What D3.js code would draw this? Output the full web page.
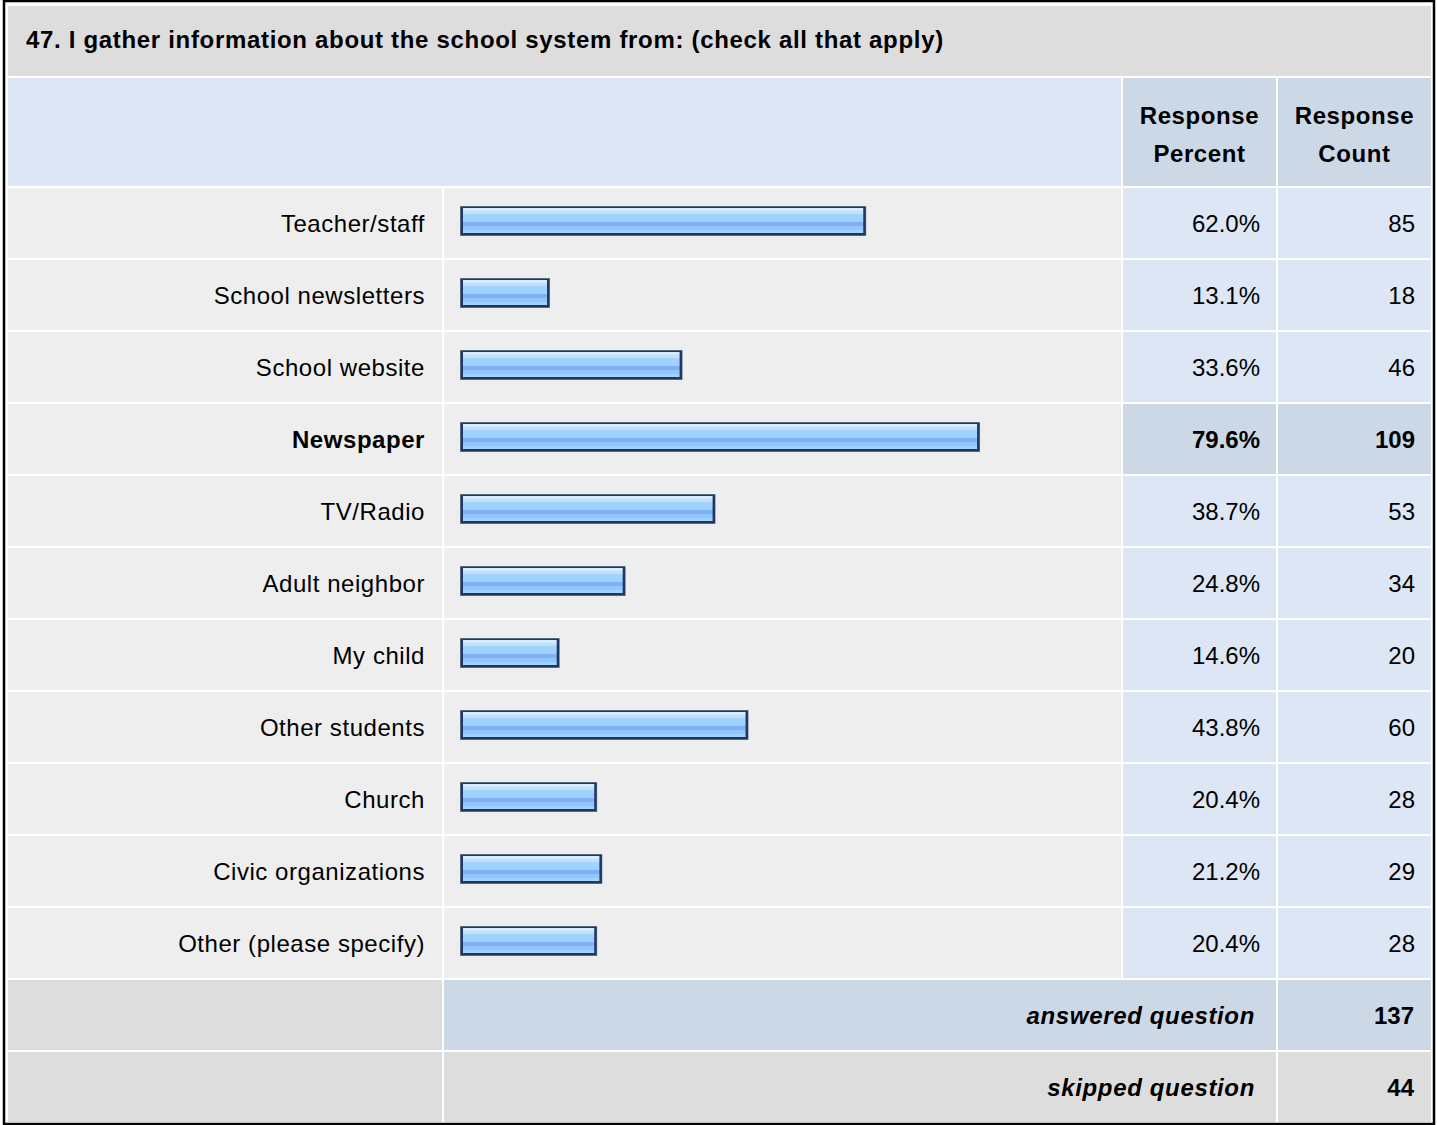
<!DOCTYPE html>
<html>
<head>
<meta charset="utf-8">
<script src="https://cdn.jsdelivr.net/npm/d3@7"></script>
<style>
  html, body { margin: 0; padding: 0; background: #ffffff; }
  svg { display: block; }
  text { font-family: "Liberation Sans", Arial, Helvetica, sans-serif; fill: #000; }
</style>
</head>
<body>
<svg id="chart" width="1437" height="1125"></svg>
<script>
const title = "47. I gather information about the school system from: (check all that apply)";
const headerPercent = ["Response", "Percent"];
const headerCount = ["Response", "Count"];
const categories = [
  "Teacher/staff", "School newsletters", "School website", "Newspaper", "TV/Radio",
  "Adult neighbor", "My child", "Other students", "Church", "Civic organizations",
  "Other (please specify)"
];
const percents = [62.0, 13.1, 33.6, 79.6, 38.7, 24.8, 14.6, 43.8, 20.4, 21.2, 20.4];
const counts = [85, 18, 46, 109, 53, 34, 20, 60, 28, 29, 28];
const footerLabels = ["answered question", "skipped question"];
const footerValues = [137, 44];

const svg = d3.select("#chart");
const W = 1437, H = 1125;

// column edges
const colLabel = [8, 442], colBar = [444, 1121], colPct = [1123, 1276], colCnt = [1278, 1431];

const C = {
  gray: "#dddddd", light: "#eeeeee", blue: "#dce6f4", blueDark: "#ccd8e6"
};

// gradient for bars
const defs = svg.append("defs");
const grad = defs.append("linearGradient").attr("id", "barGrad")
  .attr("x1", 0).attr("y1", 0).attr("x2", 0).attr("y2", 1);
[
  [0, "#d4ecff"], [0.1, "#d4ecff"], [0.12, "#bfe1ff"], [0.22, "#bfe1ff"],
  [0.24, "#a4d3ff"], [0.54, "#9fd0ff"], [0.56, "#7eb2f4"], [0.72, "#7eb2f4"],
  [0.74, "#90c6ff"], [0.88, "#90c6ff"], [0.9, "#a2d2ff"], [1, "#a2d2ff"]
].forEach(([o, c]) => grad.append("stop").attr("offset", o).attr("stop-color", c));

svg.append("rect").attr("width", W).attr("height", H).attr("fill", "#fff");

// title row
svg.append("rect").attr("x", colLabel[0]).attr("y", 6).attr("width", colCnt[1] - colLabel[0]).attr("height", 70).attr("fill", C.gray);
svg.append("text").attr("x", 26).attr("y", 48).attr("font-size", 24).attr("letter-spacing", 0.68)
  .attr("font-weight", "bold").text(title);

// header row
svg.append("rect").attr("x", colLabel[0]).attr("y", 78).attr("width", colBar[1] - colLabel[0]).attr("height", 108).attr("fill", C.blue);
svg.append("rect").attr("x", colPct[0]).attr("y", 78).attr("width", colPct[1] - colPct[0]).attr("height", 108).attr("fill", C.blueDark);
svg.append("rect").attr("x", colCnt[0]).attr("y", 78).attr("width", colCnt[1] - colCnt[0]).attr("height", 108).attr("fill", C.blueDark);
[[headerPercent, (colPct[0] + colPct[1]) / 2], [headerCount, (colCnt[0] + colCnt[1]) / 2]].forEach(([lines, cx]) => {
  lines.forEach((t, i) => {
    svg.append("text").attr("x", cx).attr("y", 124 + i * 37.5).attr("text-anchor", "middle")
      .attr("font-size", 24).attr("letter-spacing", 0.6).attr("font-weight", "bold").text(t);
  });
});

// rows
const y = d3.scaleBand().domain(categories).range([188, 978]).paddingInner(2 / 72).paddingOuter(0);
const x = d3.scaleLinear().domain([0, 100]).range([465.3, 1112]);
const maxIdx = d3.maxIndex(percents);

const rows = svg.append("g").selectAll("g").data(categories).join("g")
  .attr("transform", d => `translate(0,${y(d)})`);
const bh = y.bandwidth();

rows.append("rect").attr("x", colLabel[0]).attr("width", colLabel[1] - colLabel[0]).attr("height", bh).attr("fill", C.light);
rows.append("rect").attr("x", colBar[0]).attr("width", colBar[1] - colBar[0]).attr("height", bh).attr("fill", C.light);
rows.append("rect").attr("x", colPct[0]).attr("width", colPct[1] - colPct[0]).attr("height", bh)
  .attr("fill", (d, i) => i === maxIdx ? C.blueDark : C.blue);
rows.append("rect").attr("x", colCnt[0]).attr("width", colCnt[1] - colCnt[0]).attr("height", bh)
  .attr("fill", (d, i) => i === maxIdx ? C.blueDark : C.blue);

// bars (bar body starts 5px left of the zero point, as in the original)
const bx0 = x(0) - 5.3;
const barH = 30, barOff = bh / 2 - 2 - barH / 2;
rows.append("rect").attr("x", bx0).attr("y", barOff)
  .attr("width", (d, i) => x(percents[i]) - bx0).attr("height", barH).attr("fill", "#8a98ad");
rows.append("rect").attr("x", bx0 + 0.5).attr("y", barOff + 0.5)
  .attr("width", (d, i) => x(percents[i]) - bx0 - 1).attr("height", barH - 1).attr("fill", "#1e3860");
rows.append("rect").attr("x", bx0 + 3).attr("y", barOff + 2)
  .attr("width", (d, i) => x(percents[i]) - bx0 - 6).attr("height", barH - 5).attr("fill", "url(#barGrad)");

// texts
const base = bh / 2 + 8.5;
rows.append("text").attr("x", 425).attr("y", base).attr("text-anchor", "end").attr("font-size", 24)
  .attr("letter-spacing", 0.55)
  .attr("font-weight", (d, i) => i === maxIdx ? "bold" : "normal").text(d => d);
rows.append("text").attr("x", 1260).attr("y", base).attr("text-anchor", "end").attr("font-size", 24)
  .attr("font-weight", (d, i) => i === maxIdx ? "bold" : "normal").text((d, i) => percents[i].toFixed(1) + "%");
rows.append("text").attr("x", 1415).attr("y", base).attr("text-anchor", "end").attr("font-size", 24)
  .attr("font-weight", (d, i) => i === maxIdx ? "bold" : "normal").text((d, i) => counts[i]);

// footer rows
footerLabels.forEach((lab, i) => {
  const y0 = 980 + i * 72;
  const mid = i === 0 ? C.blueDark : C.gray;
  svg.append("rect").attr("x", colLabel[0]).attr("y", y0).attr("width", colLabel[1] - colLabel[0]).attr("height", 70).attr("fill", C.gray);
  svg.append("rect").attr("x", colBar[0]).attr("y", y0).attr("width", colPct[1] - colBar[0]).attr("height", 70).attr("fill", mid);
  svg.append("rect").attr("x", colCnt[0]).attr("y", y0).attr("width", colCnt[1] - colCnt[0]).attr("height", 70).attr("fill", mid);
  svg.append("text").attr("x", 1255).attr("y", y0 + 35 + 8.5).attr("text-anchor", "end").attr("font-size", 24)
    .attr("letter-spacing", 0.65).attr("font-weight", "bold").attr("font-style", "italic").text(lab);
  svg.append("text").attr("x", 1414).attr("y", y0 + 35 + 8.5).attr("text-anchor", "end").attr("font-size", 24)
    .attr("font-weight", "bold").text(footerValues[i]);
});

// outer border
svg.append("rect").attr("x", 4).attr("y", 1).attr("width", 1430).attr("height", 1123)
  .attr("fill", "none").attr("stroke", "#000").attr("stroke-width", 2.5);
</script>
</body>
</html>
